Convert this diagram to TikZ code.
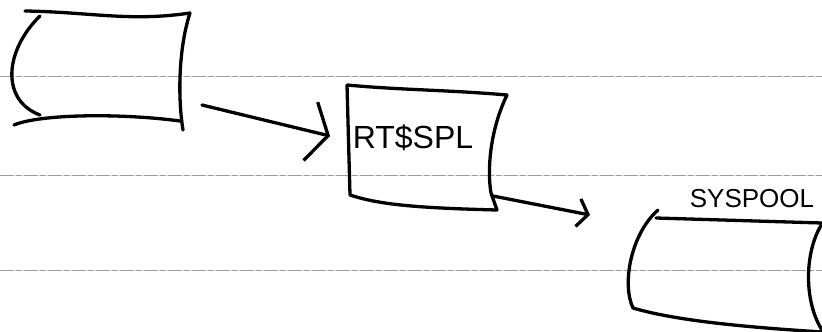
\documentclass[tikz,border=0pt]{standalone}
\usepackage{fontspec}
\setmainfont{Liberation Sans}
\usetikzlibrary{arrows.meta}

\begin{document}
\begin{tikzpicture}[x=1pt, y=-1pt, line cap=round, line join=round,
  pen/.style={line width=3.3pt},
  rule/.style={gray!75, line width=0.7pt, dash pattern=on 14pt off 2pt on 6pt off 2pt},
  bigtip/.style={-{Straight Barb[length=18pt, width=60pt]}},
  smalltip/.style={-{Straight Barb[length=10pt, width=28pt]}}]
 \useasboundingbox (0, 0) rectangle (822, 332);
  \foreach \y in {76, 175, 270}{
  \draw[rule] (0, \y) -- (822, \y);
  }
  \draw[pen] (25, 11) .. controls (90, 12) and (130, 22) .. (190, 13)
    .. controls (178, 50) and (178, 100) .. (183, 130);
  \draw[pen] (14, 125) .. controls (40, 114) and (120, 113) .. (180, 121);
  \draw[pen] (40, 16) .. controls (5, 50) and (0, 100) .. (40, 115);
  \draw[pen] (347, 85) -- (350, 195) .. controls (380, 205) and (420, 208) .. (497, 210) -- (491, 193)
    .. controls (487, 170) and (490, 130) .. (507, 95) .. controls (450, 90) and (400, 90) .. (347, 85);
  \node[font=\fontsize{32}{36}\selectfont] (rtspl) at (413, 138) {RT\$SPL};
  \draw[pen] (658, 210) .. controls (630, 235) and (622, 285) .. (633, 308)
    .. controls (680, 322) and (760, 328) .. (822, 332);
  \draw[pen] (656, 218) -- (822, 223);
  \draw[pen] (822, 224) .. controls (805, 250) and (803, 300) .. (822, 330);
  \node[font=\fontsize{26}{30}\selectfont] (syspool) at (752, 199) {SYSPOOL};
  \coordinate (tapeout) at (202, 105);
  \coordinate (splin) at (330, 136);
  \coordinate (splout) at (493, 196);
  \coordinate (poolin) at (590, 215);
  \draw[pen, bigtip] (tapeout) -- (splin);
  \draw[pen, smalltip] (splout) -- (poolin);
 \end{tikzpicture}
\end{document}
